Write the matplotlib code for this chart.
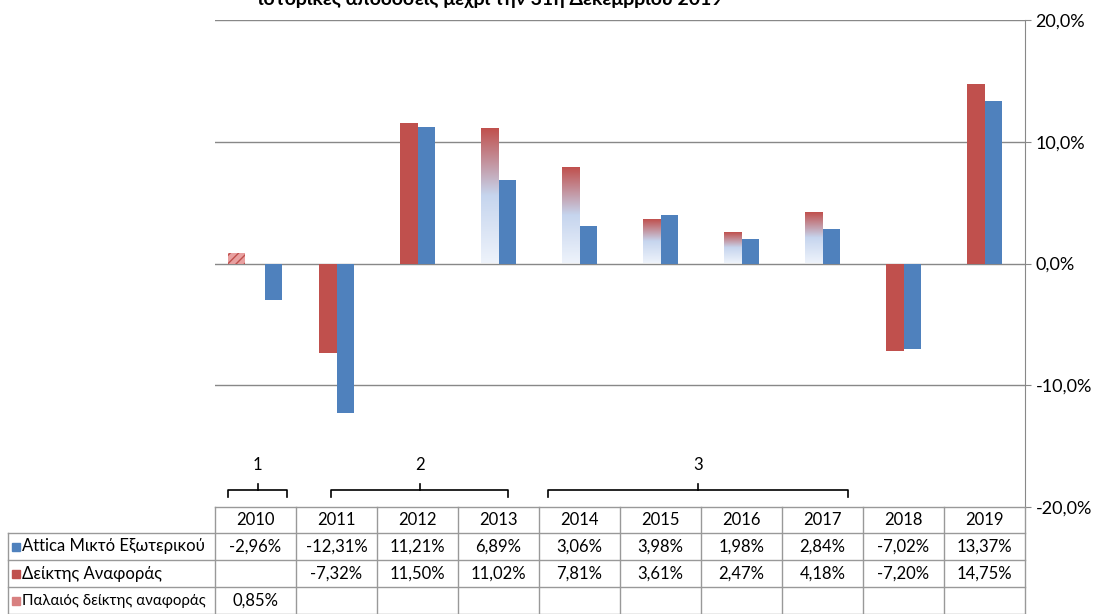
import matplotlib.pyplot as plt
import numpy as np
from matplotlib.patches import Rectangle
from matplotlib.colors import LinearSegmentedColormap

plt.rcParams['font.family'] = ['Lato', 'DejaVu Sans']

years = ["2010", "2011", "2012", "2013", "2014", "2015", "2016", "2017", "2018", "2019"]
fund = [-2.96, -12.31, 11.21, 6.89, 3.06, 3.98, 1.98, 2.84, -7.02, 13.37]
bench = [None, -7.32, 11.50, 11.02, 7.81, 3.61, 2.47, 4.18, -7.20, 14.75]
old_bench = [0.85, None, None, None, None, None, None, None, None, None]
gradient_years = ["2013", "2014", "2015", "2016", "2017"]
series_names = ["Attica Μικτό Εξωτερικού", "Δείκτης Αναφοράς", "Παλαιός δείκτης αναφοράς"]
title = "ιστορικές αποδόσεις μέχρι την 31η Δεκεμβρίου 2019"

W, H = 1094, 614
fig = plt.figure(figsize=(W / 100, H / 100), dpi=100)

x0, x1, ytop, ybot = 215, 1025, 20, 507
ax = fig.add_axes([x0 / W, 1 - ybot / H, (x1 - x0) / W, (ybot - ytop) / H])
for s in ["top", "left", "bottom"]:
    ax.spines[s].set_visible(False)
ax.spines["right"].set_color("#888888")
ax.yaxis.tick_right()
ax.set_yticks([-20, -10, 0, 10, 20])
ax.set_yticklabels([f"{v:.1f}%".replace(".", ",") for v in [-20, -10, 0, 10, 20]], fontsize=13)
ax.tick_params(axis="y", length=4, color="#888888")
ax.set_xticks([])
for v in [-10, 0, 10, 20]:
    ax.axhline(v, color="#888888", lw=1, zorder=0)

red, blue = "#c0504d", "#4f81bd"
bw = 0.21
grad = np.linspace(0, 1, 256).reshape(-1, 1)
cmap = LinearSegmentedColormap.from_list("rb", ["#eef3fb", "#c6d5ee", "#c0504d"])
for i, y in enumerate(years):
    c = i + 0.5
    fund_off = 0.22 if old_bench[i] is not None else 0.105
    ax.bar(c + fund_off, fund[i], bw, color=blue, zorder=2)
    if bench[i] is not None:
        if y in gradient_years:
            bx = c - 0.105 - bw / 2
            ax.imshow(grad, cmap=cmap, aspect="auto", origin="lower",
                      extent=[bx, bx + bw, 0, bench[i]], zorder=2)
        else:
            ax.bar(c - 0.105, bench[i], bw, color=red, zorder=2)
    if old_bench[i] is not None:
        ax.bar(c - 0.235, old_bench[i], bw, color="#e8a0a0", hatch="////",
               edgecolor="#c0504d", lw=0, zorder=2)
ax.set_xlim(0, 10)
ax.set_ylim(-20, 20)

fig.text(490 / W, 1 + 1 / H, title, ha="center", va="center", fontsize=14, fontweight="bold")

# brackets
def bracket(xa, xb, lab):
    yb = 1 - 497 / H
    yt = 1 - 490 / H
    fig.add_artist(plt.Line2D([xa / W, xa / W, xb / W, xb / W], [yb, yt, yt, yb], color="black", lw=1.2))
    xm = (xa + xb) / 2
    fig.add_artist(plt.Line2D([xm / W, xm / W], [yt, 1 - 484 / H], color="black", lw=1.2))
    fig.text(xm / W, 1 - 465 / H, lab, ha="center", va="center", fontsize=12)

bracket(228, 287, "1")
bracket(331, 508, "2")
bracket(548, 848, "3")

# table
rows_y = [507, 533, 560, 587, 614]
col_x = [x0 + k * 81 for k in range(11)]
lc = "#999999"
for ry in rows_y:
    fig.add_artist(plt.Line2D([(x0 if ry == 507 else 8) / W, x1 / W], [1 - ry / H] * 2, color=lc, lw=1))
for cx in col_x:
    fig.add_artist(plt.Line2D([cx / W] * 2, [1 - 507 / H, 0], color=lc, lw=1))
fig.add_artist(plt.Line2D([8 / W] * 2, [1 - 533 / H, 0], color=lc, lw=1))

def fmt(v):
    return "" if v is None else f"{v:.2f}%".replace(".", ",")

for i, y in enumerate(years):
    cx = (col_x[i] + 40.5) / W
    fig.text(cx, 1 - 520 / H, y, ha="center", va="center", fontsize=12)
    for r, ser in enumerate([fund, bench, old_bench]):
        fig.text(cx, 1 - (546.5 + r * 27) / H, fmt(ser[i]), ha="center", va="center", fontsize=12)

for r, (name, col) in enumerate(zip(series_names, [blue, red, "#d88080"])):
    yc = 1 - (546.5 + r * 27) / H
    fig.add_artist(Rectangle((12 / W, yc - 4 / H), 8 / W, 8 / H, color=col, transform=fig.transFigure))
    fig.text(22 / W, yc, name, ha="left", va="center", fontsize=12 if r < 2 else 10.8)

fig.savefig("out.png", dpi=100)
